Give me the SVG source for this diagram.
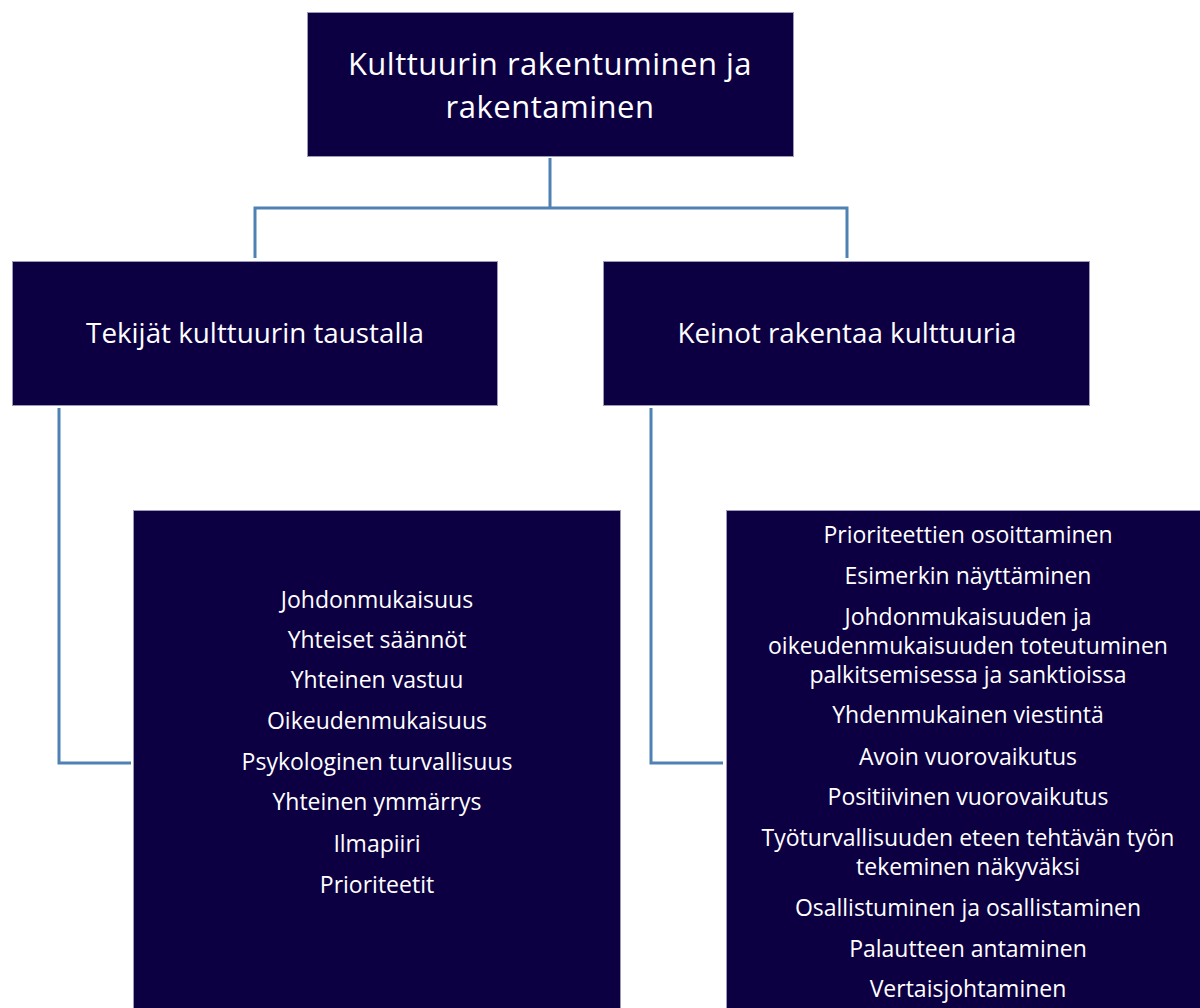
<svg xmlns="http://www.w3.org/2000/svg" width="1200" height="1008" viewBox="0 0 1200 1008">
<style>
.box{fill:#0d0042;stroke:#9c9ab8;stroke-width:1}
.conn{fill:none;stroke:#4f81b5;stroke-width:3}
text{font-family:"Open Sans","Noto Sans","Liberation Sans",sans-serif;fill:#ffffff;text-anchor:middle}
.t1{font-size:31px;letter-spacing:0.5px}
.t2{font-size:27.8px}
.t3{font-size:23px}
</style>
<rect width="1200" height="1008" fill="#ffffff"/>
<g id="connectors">
<path class="conn" d="M550,158 V208 M255,258 V208 H847 V258"/>
<path class="conn" d="M59,408 V763 H131"/>
<path class="conn" d="M651,408 V763 H723"/>
</g>
<g id="root">
<rect class="box" x="307.5" y="12.5" width="486" height="144"/>
<text class="t1"><tspan x="550" y="75">Kulttuurin rakentuminen ja</tspan><tspan x="550" y="118">rakentaminen</tspan></text>
</g>
<g id="tekijat">
<rect class="box" x="12.5" y="261.5" width="485" height="144"/>
<text class="t2" x="255" y="343">Tekijät kulttuurin taustalla</text>
</g>
<g id="keinot">
<rect class="box" x="603.5" y="261.5" width="486" height="144"/>
<text class="t2" x="847" y="343">Keinot rakentaa kulttuuria</text>
</g>
<g id="tekijat-list">
<rect class="box" x="133.5" y="510.5" width="487" height="510"/>
<text class="t3" x="377" y="608">Johdonmukaisuus</text>
<text class="t3" x="377" y="648">Yhteiset säännöt</text>
<text class="t3" x="377" y="688">Yhteinen vastuu</text>
<text class="t3" x="377" y="729">Oikeudenmukaisuus</text>
<text class="t3" x="377" y="770">Psykologinen turvallisuus</text>
<text class="t3" x="377" y="810">Yhteinen ymmärrys</text>
<text class="t3" x="377" y="852">Ilmapiiri</text>
<text class="t3" x="377" y="893">Prioriteetit</text>
</g>
<g id="keinot-list">
<rect class="box" x="726.5" y="510.5" width="486" height="510"/>
<text class="t3" x="968" y="543">Prioriteettien osoittaminen</text>
<text class="t3" x="968" y="584">Esimerkin näyttäminen</text>
<text class="t3"><tspan x="968" y="625">Johdonmukaisuuden ja</tspan><tspan x="968" y="654">oikeudenmukaisuuden toteutuminen</tspan><tspan x="968" y="683">palkitsemisessa ja sanktioissa</tspan></text>
<text class="t3" x="968" y="723">Yhdenmukainen viestintä</text>
<text class="t3" x="968" y="765">Avoin vuorovaikutus</text>
<text class="t3" x="968" y="805">Positiivinen vuorovaikutus</text>
<text class="t3"><tspan x="968" y="846">Työturvallisuuden eteen tehtävän työn</tspan><tspan x="968" y="875">tekeminen näkyväksi</tspan></text>
<text class="t3" x="968" y="916">Osallistuminen ja osallistaminen</text>
<text class="t3" x="968" y="957">Palautteen antaminen</text>
<text class="t3" x="968" y="997">Vertaisjohtaminen</text>
</g>
</svg>
